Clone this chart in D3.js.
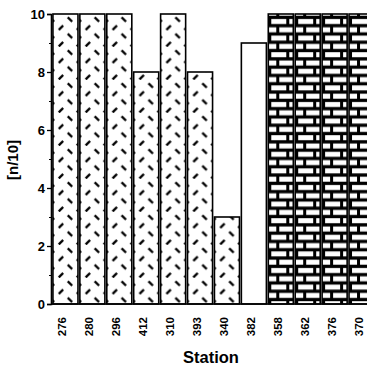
<!DOCTYPE html>
<html><head><meta charset="utf-8">
<script src="https://cdn.jsdelivr.net/npm/d3@7"></script>
<style>body{margin:0;background:#fff}svg{display:block}</style>
</head><body>
<script>
const stations = ["276","280","296","412","310","393","340","382","358","362","376","370"];
const values = [10,10,10,8,10,8,3,9,10,10,10,10];
const fills = ["dash","dash","dash","dash","dash","dash","dash","white","brick","brick","brick","brick"];
const yTicks = [0,2,4,6,8,10];

const W=367,H=367;
const svg=d3.select("body").append("svg").attr("width",W).attr("height",H);
const defs=svg.append("defs");

const x=d3.scaleBand().domain(stations).range([52,375]).paddingInner(0.07).paddingOuter(0.035);
const y=d3.scaleLinear().domain([0,10]).range([304,14]);

// per-bar patterns aligned to each bar
stations.forEach((s,i)=>{
  const bx=x(s), by=y(10);
  if(fills[i]==="dash"){
    const p=defs.append("pattern").attr("id","p"+i).attr("patternUnits","userSpaceOnUse")
      .attr("width",18).attr("height",16.5).attr("x",bx).attr("y",by);
    p.append("rect").attr("width",18).attr("height",16.5).attr("fill","#fff");
    const L=(x1,y1,x2,y2)=>p.append("line").attr("x1",x1).attr("y1",y1).attr("x2",x2).attr("y2",y2)
      .attr("stroke","#000").attr("stroke-width",2.3).attr("stroke-linecap","butt");
    // "\" centred at (17,5.5), wrapped at -1
    L(14.8,3.3,19.2,7.7); L(-3.2,3.3,1.2,7.7);
    // "/" centred at (8,13.75)
    L(5.8,15.95,10.2,11.55);
  } else if(fills[i]==="brick"){
    const p=defs.append("pattern").attr("id","p"+i).attr("patternUnits","userSpaceOnUse")
      .attr("width",18).attr("height",16.6).attr("x",bx).attr("y",by);
    p.append("rect").attr("width",18).attr("height",16.6).attr("fill","#000");
    [[3,5,15,5],[11,13.3,15,5],[-7,13.3,15,5],[11,-3.3,15,5],[-7,-3.3,15,5]].forEach(r=>{
      p.append("rect").attr("x",r[0]).attr("y",r[1]).attr("width",r[2]).attr("height",r[3]).attr("fill","#fff");
    });
  }
});

svg.selectAll("rect.bar").data(stations).join("rect").attr("class","bar")
  .attr("x",d=>x(d)).attr("width",x.bandwidth())
  .attr("y",(d,i)=>y(values[i])).attr("height",(d,i)=>y(0)-y(values[i]))
  .attr("fill",(d,i)=>fills[i]==="white"?"#fff":`url(#p${i})`)
  .attr("stroke","#000").attr("stroke-width",1.6);

// baseline
svg.append("line").attr("x1",51).attr("x2",367).attr("y1",y(0)).attr("y2",y(0)).attr("stroke","#000").attr("stroke-width",1.5);

// y axis
const ya=d3.axisLeft(y).tickValues(yTicks).tickSize(4).tickFormat(d3.format("d"));
const g=svg.append("g").attr("transform","translate(51,0)").call(ya);
g.select(".domain").attr("stroke-width",1.6);
g.selectAll(".tick line").attr("stroke-width",1.3);
g.selectAll(".tick text").attr("font-family","Arial, Liberation Sans, sans-serif").attr("font-weight","bold").attr("font-size",13).attr("fill","#000").attr("x",-6);
const ym=d3.axisLeft(y).tickValues([1,3,5,7,9]).tickSize(2).tickFormat("");
const gm=svg.append("g").attr("transform","translate(51,0)").call(ym);
gm.select(".domain").remove();

// x labels
svg.selectAll("text.xl").data(stations).join("text").attr("class","xl")
  .attr("transform",d=>`translate(${x(d)+x.bandwidth()/2-2},317) rotate(-90)`)
  .attr("text-anchor","end").attr("dominant-baseline","middle")
  .attr("font-family","Arial, Liberation Sans, sans-serif").attr("font-weight","bold").attr("font-size",11.5)
  .text(d=>d);

svg.append("text").attr("x",211).attr("y",363).attr("text-anchor","middle")
  .attr("font-family","Arial, Liberation Sans, sans-serif").attr("font-weight","bold").attr("font-size",16.5).text("Station");
svg.append("text").attr("transform","translate(18,160) rotate(-90)").attr("text-anchor","middle")
  .attr("font-family","Arial, Liberation Sans, sans-serif").attr("font-weight","bold").attr("font-size",15).text("[n/10]");
</script>
</body></html>
